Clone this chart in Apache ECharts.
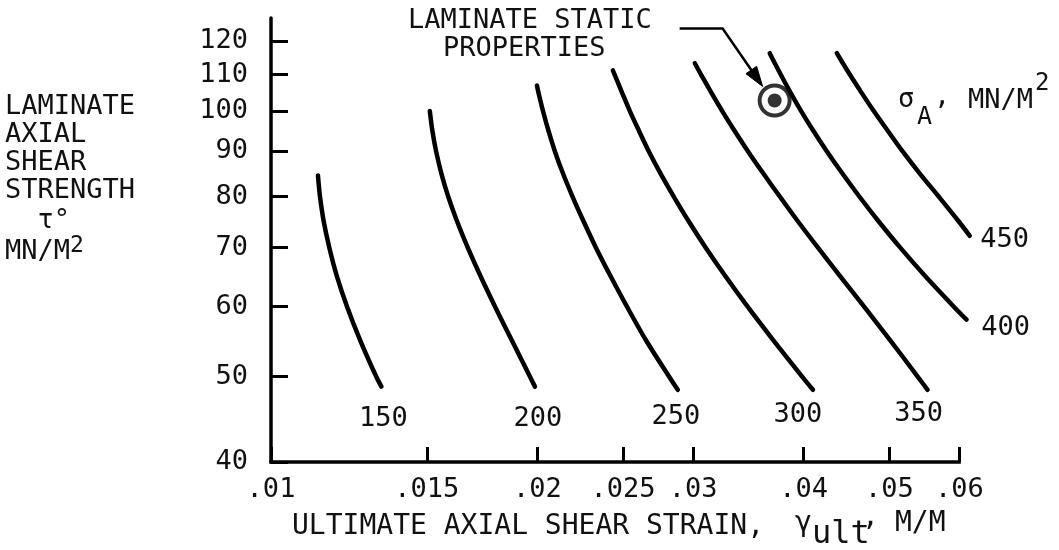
<!DOCTYPE html>
<html><head><meta charset="utf-8">
<script src="https://cdn.jsdelivr.net/npm/echarts@6/dist/echarts.min.js"></script>
<style>html,body{margin:0;padding:0;background:#fff}#c{width:1059px;height:550px}</style>
</head><body><div id="c"></div>
<script>
// ---- data (log-log chart) ----
const xTicks = [0.01, 0.015, 0.02, 0.025, 0.03, 0.04, 0.05, 0.06];
const xTickLabels = ['.01', '.015', '.02', '.025', '.03', '.04', '.05', '.06'];
const yTicks = [40, 50, 60, 70, 80, 90, 100, 110, 120];
const yTickLabels = ['40', '50', '60', '70', '80', '90', '100', '110', '120'];
const curveNames = ['150', '200', '250', '300', '350', '400', '450'];
const c150 = [[0.01130, 84.5], [0.01136, 80], [0.01147, 75], [0.01164, 70], [0.01187, 65], [0.01219, 60], [0.01261, 55], [0.01315, 50], [0.01333, 48.7]];
const c200 = [[0.01512, 100], [0.01522, 95], [0.01537, 90], [0.01558, 85], [0.01586, 80], [0.01623, 75], [0.01669, 70], [0.01725, 65], [0.01792, 60], [0.01871, 55], [0.01962, 50], [0.01988, 48.7]];
const c250 = [[0.01998, 106.9], [0.02006, 105], [0.02030, 100], [0.02059, 95], [0.02094, 90], [0.02138, 85], [0.02192, 80], [0.02256, 75], [0.02330, 70], [0.02420, 65], [0.02526, 60], [0.02653, 55], [0.02818, 50], [0.02883, 48.3]];
const c300 = [[0.02435, 111.2], [0.02446, 110], [0.02493, 105], [0.02545, 100], [0.02606, 95], [0.02674, 90], [0.02756, 85], [0.02853, 80], [0.02966, 75], [0.03101, 70], [0.03263, 65], [0.03458, 60], [0.03696, 55], [0.03985, 50], [0.04099, 48.3]];
const c350 = [[0.03014, 113.3], [0.03063, 110], [0.03145, 105], [0.03237, 100], [0.03342, 95], [0.03462, 90], [0.03601, 85], [0.03760, 80], [0.03941, 75], [0.04153, 70], [0.04399, 65], [0.04683, 60], [0.05010, 55], [0.05383, 50], [0.05524, 48.3]];
const c400 = [[0.03663, 116.3], [0.03683, 115], [0.03769, 110], [0.03865, 105], [0.03975, 100], [0.04103, 95], [0.04251, 90], [0.04424, 85], [0.04625, 80], [0.04862, 75], [0.05145, 70], [0.05489, 65], [0.05915, 60], [0.06114, 58]];
const c450 = [[0.04362, 116.3], [0.04391, 115], [0.04512, 110], [0.04649, 105], [0.04802, 100], [0.04980, 95], [0.05177, 90], [0.05411, 85], [0.05686, 80], [0.05989, 75], [0.06165, 72.2]];
const staticPoint = [0.0371, 102.8];
const yAxisTop = 127.5;
const xAxisRight = 0.0625;

// ---- layout / style ----
const FONT = '"DejaVu Sans Mono", "Liberation Mono", monospace';
const FS = 27;
const INK = '#111';
const curves = [c150, c200, c250, c300, c350, c400, c450];
const labelOffsets = [[2, 32], [3, 32], [-2, 27], [-15, 25], [-9, 24], [39, 8], [35, 4]];
const L = Math.log10;
const toLog = p => [L(p[0]), L(p[1])];
const findLabel = (ticks, labels, v) => {
  const i = ticks.findIndex(t => Math.abs(L(t) - v) < 1e-6);
  return i >= 0 ? labels[i] : '';
};

const chart = echarts.init(document.getElementById('c'), null, {renderer: 'canvas'});

const series = curves.map((c, i) => {
  const data = c.map(toLog);
  return {
    name: curveNames[i], type: 'line', data: data,
    showSymbol: false, symbol: 'none', smooth: 0.3,
    clip: false, silent: true, animation: false,
    lineStyle: {color: '#000', width: 4.5, cap: 'round', join: 'round'},
    markPoint: {
      symbol: 'circle', symbolSize: 1, silent: true, animation: false,
      itemStyle: {color: 'rgba(0,0,0,0)'},
      label: {show: true, position: 'inside', offset: labelOffsets[i], formatter: curveNames[i],
        fontFamily: FONT, fontSize: FS, color: INK},
      data: [{coord: data[data.length - 1]}]
    }
  };
});
series.push({
  type: 'scatter', data: [toLog(staticPoint)], symbolSize: 30, silent: true, animation: false, z: 5,
  itemStyle: {color: '#fff', borderColor: '#000', borderWidth: 4}
});
series.push({
  type: 'scatter', data: [toLog(staticPoint)], symbolSize: 14, silent: true, animation: false, z: 6,
  itemStyle: {color: '#000'}
});

chart.setOption({
  backgroundColor: '#fff',
  animation: false,
  grid: {left: 271, right: 84, top: 18, bottom: 88, containLabel: false},
  xAxis: {
    type: 'value', min: L(xTicks[0]), max: L(xAxisRight),
    axisLine: {show: false},
    axisTick: {show: true, inside: true, length: 15, lineStyle: {color: '#000', width: 3}, customValues: xTicks.map(L)},
    axisLabel: {show: true, customValues: xTicks.map(L), margin: 14, fontFamily: FONT, fontSize: FS, color: INK,
      formatter: v => findLabel(xTicks, xTickLabels, v)},
    splitLine: {show: false}
  },
  yAxis: {
    type: 'value', min: L(yTicks[0]), max: L(yAxisTop),
    axisLine: {show: true, onZero: false, lineStyle: {color: '#000', width: 3.5}},
    axisTick: {show: true, inside: true, length: 17, lineStyle: {color: '#000', width: 3}, customValues: yTicks.map(L)},
    axisLabel: {show: true, customValues: yTicks.map(L), margin: 23, fontFamily: FONT, fontSize: FS, color: INK,
      formatter: v => findLabel(yTicks, yTickLabels, v)},
    splitLine: {show: false}
  },
  series: series
});

// ---- annotations ----
const txt = (text, x, y, size) => ({
  type: 'text', x: x, y: y, silent: true, z: 10,
  style: {text: text, font: (size || FS) + 'px ' + FONT, fill: INK, align: 'left', verticalAlign: 'middle'}
});

const P = chart.convertToPixel({gridIndex: 0}, toLog(staticPoint));
const start = [P[0] - 95, P[1] - 72], corner = [P[0] - 52, P[1] - 72], tip = [P[0] - 12, P[1] - 14];
const dx = tip[0] - corner[0], dy = tip[1] - corner[1], len = Math.hypot(dx, dy);
const ux = dx / len, uy = dy / len, hl = 20, hw = 6.5;
const base = [tip[0] - ux * hl, tip[1] - uy * hl];
const head = [tip, [base[0] - uy * hw, base[1] + ux * hw], [base[0] + uy * hw, base[1] - ux * hw]];

// x axis line: from .01 to .06 (curves run slightly past .06)
const ax0 = chart.convertToPixel({gridIndex: 0}, [L(xTicks[0]), L(yTicks[0])]);
const ax1 = chart.convertToPixel({gridIndex: 0}, [L(xTicks[xTicks.length - 1]), L(yTicks[0])]);

chart.setOption({
  graphic: [
    {type: 'line', silent: true, z: 10, shape: {x1: ax0[0] - 1.75, y1: ax0[1], x2: ax1[0] + 1.5, y2: ax1[1]},
      style: {stroke: '#000', lineWidth: 3.5}},
    // left axis title
    txt('LAMINATE', 5, 107), txt('AXIAL', 5, 135), txt('SHEAR', 5, 163), txt('STRENGTH', 5, 191),
    txt('  τ°', 5, 221), txt('MN/M', 5, 252), txt('2', 70, 246, 23),
    // bottom axis title
    txt('ULTIMATE AXIAL SHEAR STRAIN,', 292, 527, 28), txt('γ', 795, 524, 28), txt('ult', 812, 535, 32),
    txt(',', 862, 518, 28), txt('M/M', 895, 524, 28),
    // sigma label
    txt('σ', 898, 100), txt('A', 917, 117, 25), txt(',', 934, 97), txt('MN/M', 968, 101), txt('2', 1035, 84, 24),
    // static property annotation
    txt('LAMINATE STATIC', 408, 21), txt('PROPERTIES', 443, 49),
    {type: 'polyline', silent: true, z: 10, shape: {points: [start, corner, [base[0], base[1]]]},
      style: {stroke: '#000', lineWidth: 2.5, fill: null}},
    {type: 'polygon', silent: true, z: 10, shape: {points: head}, style: {fill: '#000', stroke: '#000', lineWidth: 1}}
  ]
});
</script></body></html>
